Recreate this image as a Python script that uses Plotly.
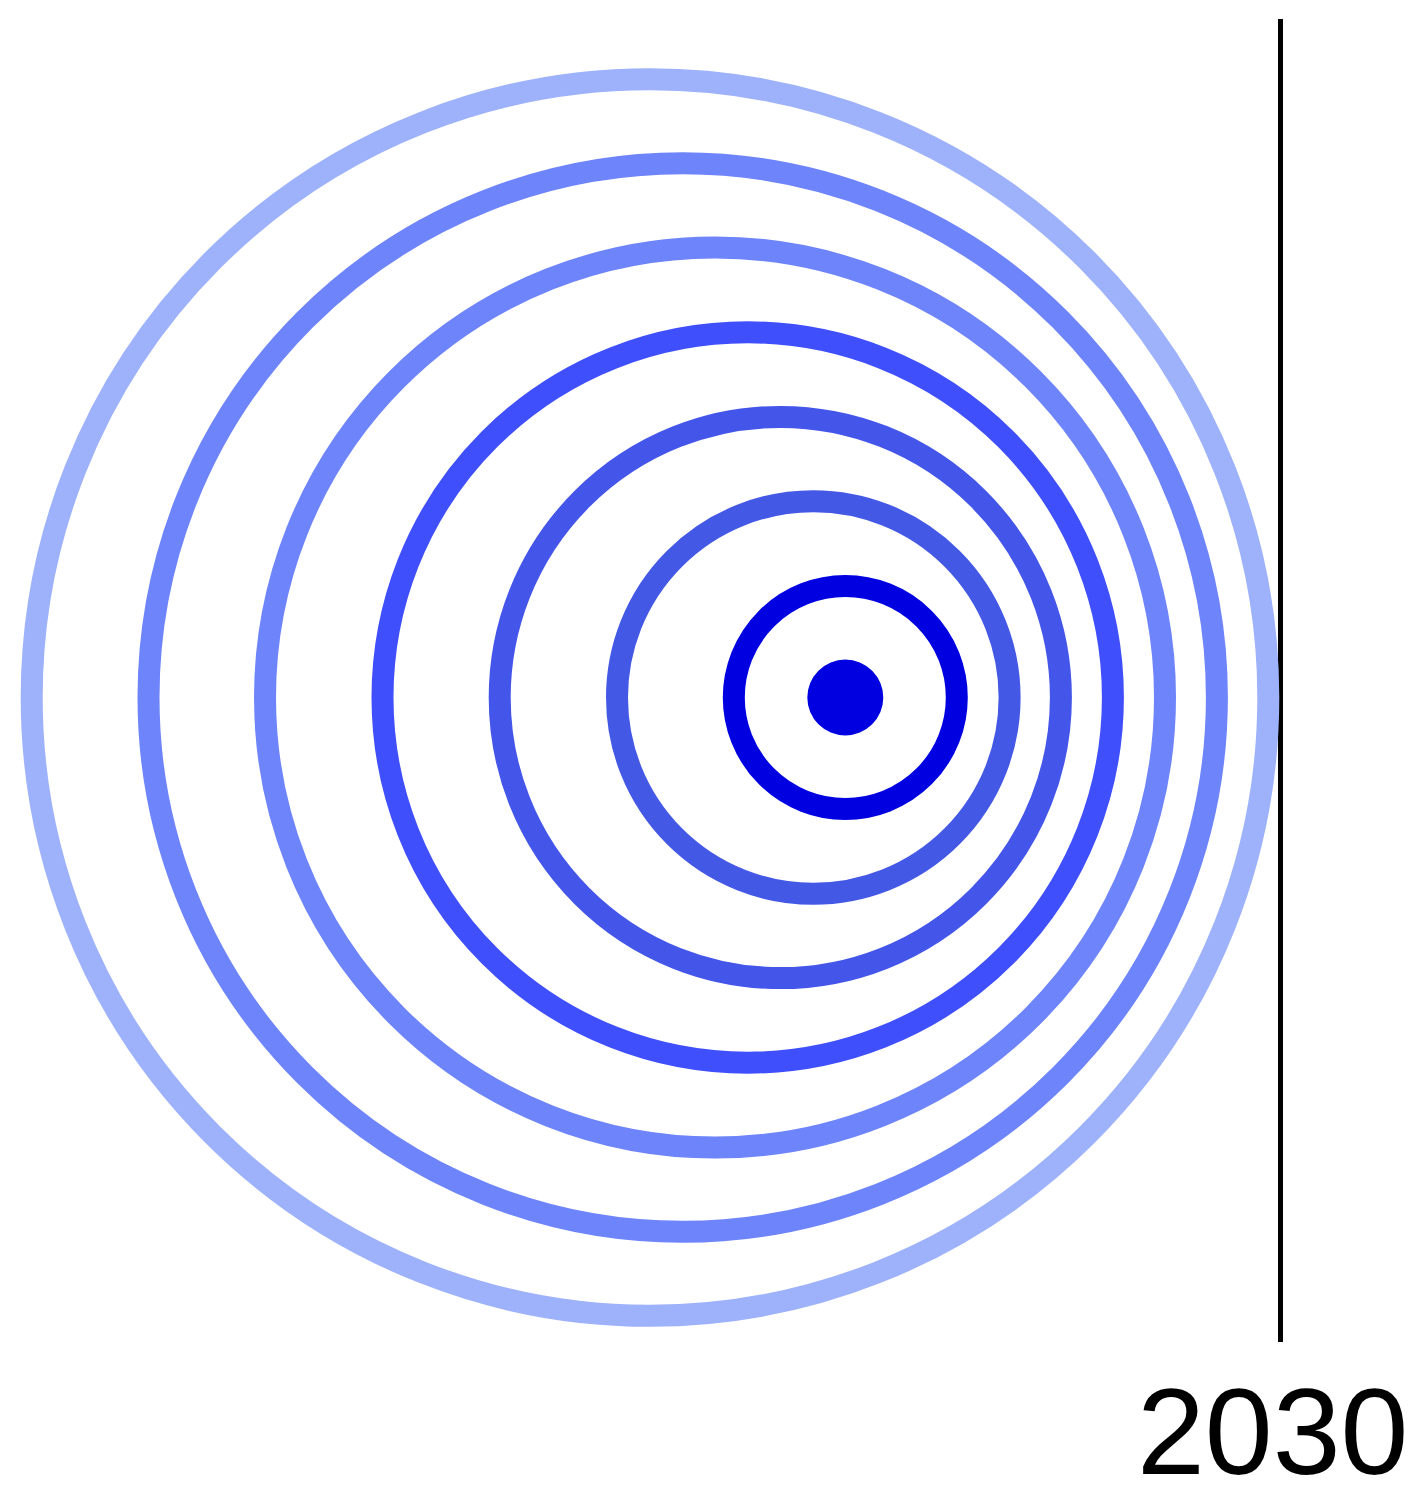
import plotly.graph_objects as go

# Ripple rings (outer -> inner): center x, center y, radius (stroke centre line)
ring_cx = [650.0, 682.7, 715.0, 747.7, 780.3, 813.3, 845.3]
ring_cy = [697.5, 697.5, 697.5, 697.5, 697.5, 697.5, 697.5]
ring_r = [618.3, 534.2, 450.0, 365.2, 280.6, 196.3, 111.5]
ring_colors = ["#9db2fb", "#6d84fb", "#6d84fb", "#3f4ffb", "#4456ea", "#4458e6", "#0000e0"]

# Central dot
dot_cx = [845.3]
dot_cy = [697.5]
dot_r = [38.0]
dot_color = "#0000e0"

# Year marker line
year_label = ["2030"]
line_x = [1280.5, 1280.5]
line_y = [19.0, 1342.0]

W, H = 1419, 1502

fig = go.Figure()

shapes = []
for cx, cy, r, c in zip(ring_cx, ring_cy, ring_r, ring_colors):
    shapes.append(dict(type="circle", xref="x", yref="y",
                       x0=cx - r, x1=cx + r, y0=cy - r, y1=cy + r,
                       line=dict(color=c, width=22), fillcolor="rgba(0,0,0,0)"))
for cx, cy, r in zip(dot_cx, dot_cy, dot_r):
    shapes.append(dict(type="circle", xref="x", yref="y",
                       x0=cx - r, x1=cx + r, y0=cy - r, y1=cy + r,
                       line=dict(color=dot_color, width=0), fillcolor=dot_color))

fig.add_trace(go.Scatter(x=line_x, y=line_y, mode="lines",
                         line=dict(color="black", width=5),
                         hoverinfo="skip", showlegend=False))

fig.add_annotation(x=1272.5, y=1501, xref="x", yref="y", text=year_label[0],
                   showarrow=False, xanchor="center", yanchor="bottom", borderpad=0,
                   font=dict(family="Liberation Sans, Arial, sans-serif", size=122, color="black"))

fig.update_layout(
    width=W, height=H,
    margin=dict(l=0, r=0, t=0, b=0),
    paper_bgcolor="white", plot_bgcolor="white",
    shapes=shapes,
    xaxis=dict(range=[0, W], visible=False, fixedrange=True),
    yaxis=dict(range=[H, 0], visible=False, fixedrange=True),
    showlegend=False,
)

fig.write_html("out.html", config={"displayModeBar": False},
               post_script="document.body.style.margin='0';document.body.style.overflow='hidden';")
